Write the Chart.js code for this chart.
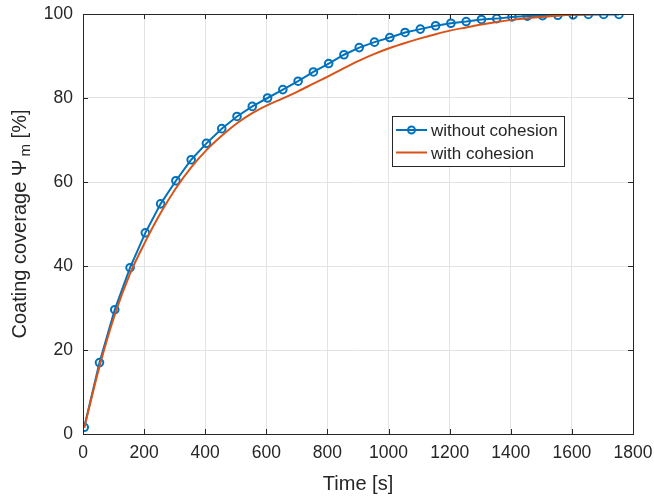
<!DOCTYPE html>
<html>
<head>
<meta charset="utf-8">
<script src="https://cdn.jsdelivr.net/npm/chart.js@4.4.1/dist/chart.umd.min.js"></script>
<style>
  html, body { margin: 0; padding: 0; background: #ffffff; }
  #wrap { width: 654px; height: 498px; }
</style>
</head>
<body>
<div id="wrap"><canvas id="c" width="654" height="498"></canvas></div>
<script>
// ---- data ----
const timeWithout = [4, 54, 104, 154, 204, 254, 304, 354, 404, 454, 504, 554, 604, 654, 704, 754, 804, 854,
  904, 954, 1004, 1054, 1104, 1154, 1204, 1254, 1304, 1354, 1404, 1454, 1504, 1554, 1604, 1654, 1704, 1754];
const coverageWithout = [1.6, 17.0, 29.6, 39.6, 47.9, 54.8, 60.3, 65.3, 69.2, 72.7, 75.6, 78.0, 80.0, 82.0, 84.0, 86.2, 88.2, 90.3,
  92.0, 93.3, 94.4, 95.6, 96.4, 97.2, 97.8, 98.2, 98.7, 98.9, 99.3, 99.5, 99.6, 99.7, 99.8, 99.9, 99.9, 99.9];
const timeWith = [4, 54, 104, 154, 204, 254, 304, 354, 404, 454, 504, 554, 604, 654, 704, 754, 804, 854,
  904, 954, 1004, 1054, 1104, 1154, 1204, 1254, 1304, 1354, 1404, 1454, 1504, 1554, 1604, 1654, 1704, 1754, 1800];
const coverageWith = [1.5, 16.1, 28.4, 38.2, 45.8, 52.6, 58.5, 63.5, 67.6, 71.0, 74.0, 76.4, 78.3, 79.9, 81.6, 83.4, 85.2, 87.1,
  88.9, 90.5, 91.9, 93.1, 94.2, 95.2, 96.1, 96.8, 97.5, 98.1, 98.6, 99.0, 99.3, 99.6, 99.8, 99.9, 100, 100, 100];
const seriesNames = ["without cohesion", "with cohesion"];
const xTitle = "Time [s]";
const yTitleMain = "Coating coverage \u03A8";
const yTitleSub = "m";
const yTitleEnd = " [%]";

const BLUE = "#0072BD";
const ORANGE = "#D95319";
const AXIS = "#262626";
const FONT = "'Liberation Sans', Arial, Helvetica, sans-serif";

const toXY = (xs, ys) => xs.map((x, i) => ({ x: x, y: ys[i] }));

const framePlugin = {
  id: 'frame',
  afterDraw(chart) {
    const ctx = chart.ctx;
    const a = chart.chartArea;
    const xs = chart.scales.x, ys = chart.scales.y;
    ctx.save();
    ctx.strokeStyle = AXIS;
    ctx.lineWidth = 1;
    ctx.beginPath();
    ctx.rect(Math.round(a.left) + 0.5, Math.round(a.top) + 0.5, Math.round(a.right - a.left), Math.round(a.bottom - a.top));
    ctx.stroke();
    const tl = 5;
    ctx.beginPath();
    xs.ticks.forEach(t => {
      const px = Math.round(xs.getPixelForValue(t.value)) + 0.5;
      ctx.moveTo(px, a.bottom); ctx.lineTo(px, a.bottom - tl);
      ctx.moveTo(px, a.top); ctx.lineTo(px, a.top + tl);
    });
    ys.ticks.forEach(t => {
      const py = Math.round(ys.getPixelForValue(t.value)) + 0.5;
      ctx.moveTo(a.left, py); ctx.lineTo(a.left + tl, py);
      ctx.moveTo(a.right, py); ctx.lineTo(a.right - tl, py);
    });
    ctx.stroke();

    ctx.fillStyle = AXIS;
    ctx.textBaseline = 'alphabetic';
    ctx.font = "20px " + FONT;
    ctx.textAlign = 'center';
    ctx.fillText(xTitle, (a.left + a.right) / 2, 490);

    const mainW = ctx.measureText(yTitleMain).width;
    ctx.font = "15px " + FONT;
    const subW = ctx.measureText(yTitleSub).width;
    ctx.font = "20px " + FONT;
    const endW = ctx.measureText(yTitleEnd).width;
    const gap = 3;
    const total = mainW + gap + subW + endW;
    ctx.translate(26, (a.top + a.bottom) / 2);
    ctx.rotate(-Math.PI / 2);
    ctx.textAlign = 'left';
    let x0 = -total / 2;
    ctx.fillText(yTitleMain, x0, 0);
    x0 += mainW + gap;
    ctx.font = "15px " + FONT;
    ctx.fillText(yTitleSub, x0, 4);
    x0 += subW;
    ctx.font = "20px " + FONT;
    ctx.fillText(yTitleEnd, x0, 0);
    ctx.restore();

    ctx.save();
    const lx = 392, ly = 116, lw = 172, lh = 50;
    ctx.fillStyle = '#ffffff';
    ctx.fillRect(lx, ly, lw, lh);
    ctx.strokeStyle = AXIS;
    ctx.lineWidth = 1;
    ctx.strokeRect(lx + 0.5, ly + 0.5, lw, lh);
    ctx.font = "17px " + FONT;
    ctx.textAlign = 'left';
    ctx.textBaseline = 'middle';
    ctx.lineWidth = 2;
    ctx.strokeStyle = BLUE;
    ctx.beginPath(); ctx.moveTo(396, 130); ctx.lineTo(427, 130); ctx.stroke();
    ctx.beginPath(); ctx.arc(411.5, 130, 3.5, 0, Math.PI * 2); ctx.stroke();
    ctx.fillStyle = AXIS;
    ctx.fillText(seriesNames[0], 431, 131);
    ctx.strokeStyle = ORANGE;
    ctx.beginPath(); ctx.moveTo(396, 152.5); ctx.lineTo(427, 152.5); ctx.stroke();
    ctx.fillText(seriesNames[1], 431, 154);
    ctx.restore();
  }
};

new Chart(document.getElementById('c'), {
  type: 'scatter',
  data: {
    datasets: [
      {
        label: seriesNames[1],
        data: toXY(timeWith, coverageWith),
        showLine: true,
        borderColor: ORANGE,
        borderWidth: 2,
        pointRadius: 0,
        cubicInterpolationMode: 'monotone',
        order: 0
      },
      {
        label: seriesNames[0],
        data: toXY(timeWithout, coverageWithout),
        showLine: true,
        borderColor: BLUE,
        borderWidth: 2,
        pointRadius: 3.8,
        pointBorderWidth: 2,
        pointBorderColor: BLUE,
        pointBackgroundColor: 'rgba(0,0,0,0)',
        tension: 0,
        order: 1
      }
    ]
  },
  options: {
    responsive: false,
    animation: false,
    devicePixelRatio: 1,
    layout: { padding: { top: 14, right: 21, left: 0, bottom: 0 } },
    plugins: { legend: { display: false }, tooltip: { enabled: false } },
    scales: {
      x: {
        type: 'linear', min: 0, max: 1800,
        ticks: { stepSize: 200, color: AXIS, font: { family: FONT, size: 17.5 }, padding: 9, maxRotation: 0,
                 callback: v => String(v) },
        grid: { color: '#e3e3e3', drawTicks: false },
        border: { color: AXIS },
        afterFit: s => { s.height = 64; s.paddingLeft = 0; s.paddingRight = 0; }
      },
      y: {
        type: 'linear', min: 0, max: 100,
        ticks: { stepSize: 20, color: AXIS, font: { family: FONT, size: 17.5 }, padding: 10,
                 callback: v => String(v) },
        grid: { color: '#e3e3e3', drawTicks: false },
        border: { color: AXIS },
        afterFit: s => { s.width = 83; s.paddingTop = 0; s.paddingBottom = 0; }
      }
    }
  },
  plugins: [framePlugin]
});
</script>
</body>
</html>
